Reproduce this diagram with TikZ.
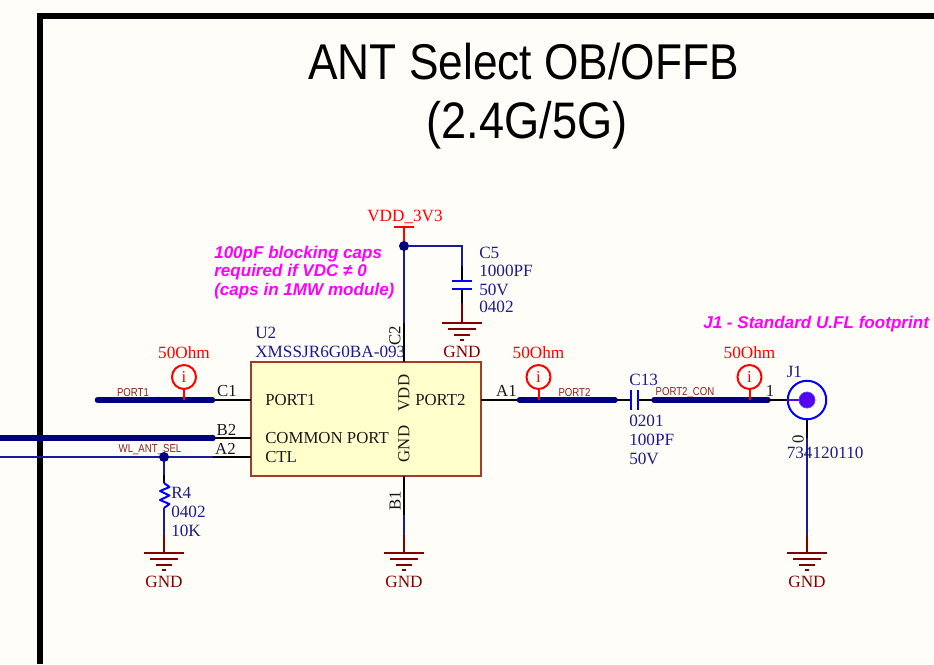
\documentclass[tikz,border=0pt]{standalone}
\usepackage{fontspec}
\setmainfont{Liberation Serif}
\setsansfont{Liberation Sans}
\newfontfamily\titlefont[FakeStretch=0.88]{Liberation Sans}
\newfontfamily\netfont[FakeStretch=0.84]{Liberation Sans}
\definecolor{paper}{HTML}{FFFDF8}
\definecolor{netblue}{HTML}{000080}
\definecolor{wireblue}{HTML}{1A1A9A}
\definecolor{partblue}{HTML}{0000FF}
\definecolor{bodyfill}{HTML}{FFFFCC}
\definecolor{bodyline}{HTML}{A33A2A}
\definecolor{gndred}{HTML}{800000}
\definecolor{labelred}{HTML}{8B2020}
\definecolor{note}{HTML}{FF00FF}
\definecolor{txtblue}{HTML}{1C1C8C}
\definecolor{dotfill}{HTML}{5500EE}
\tikzset{
  x=0.75pt,y=-0.75pt,
  bus/.style={netblue,line width=5.5pt*0.75,line cap=round},
  widebus/.style={netblue,line width=6.5pt*0.75},
  wire/.style={wireblue,line width=2pt*0.75},
  pin/.style={black,line width=2pt*0.75},
  gndwire/.style={gndred,line width=2pt*0.75},
  serif/.style={font=\fontsize{12.9}{15}\selectfont,inner sep=0pt},
  valtxt/.style={serif,text=txtblue,anchor=west},
  pintxt/.style={font=\fontsize{12.6}{15}\selectfont,inner sep=0pt,text=black!90},
  netlabel/.style={font=\netfont\fontsize{8.6}{10}\selectfont,text=labelred,inner sep=0pt},
  ohm/.style={serif,text=red},
  infocircle/.style={circle,draw=red,line width=2pt*0.75,minimum size=24*0.75pt,inner sep=0pt,font=\fontsize{12.5}{14}\selectfont,text=red},
  notetxt/.style={font=\sffamily\bfseries\itshape\fontsize{12.8}{14}\selectfont,text=note,inner sep=0pt,align=left},
  junction/.style={circle,fill=netblue,inner sep=0pt,minimum size=10*0.75pt},
  gndtxt/.style={serif,text=gndred},
  gndbar/.style={gndred,line width=2pt*0.75},
  plate/.style={partblue,line width=2pt*0.75},
  redline/.style={red,line width=2pt*0.75},
}
\newcommand{\gnd}[2]{%
  \draw[gndbar] (#1-20,#2) -- (#1+20,#2);
  \draw[gndbar] (#1-14,#2+6) -- (#1+14,#2+6);
  \draw[gndbar] (#1-8,#2+12) -- (#1+8,#2+12);
  \draw[gndbar] (#1-2,#2+17) -- (#1+2,#2+17);
}
\begin{document}
\begin{tikzpicture}
\useasboundingbox (0,0) rectangle (934,664);
\fill[paper] (0,0) rectangle (934,664);
% frame
\coordinate (fa) at (40,664);
\coordinate (fb) at (40,16);
\coordinate (fc) at (934,16);
\draw[black,line width=6pt*0.75,line join=miter] (fa) -- (fb) -- (fc);
% title
\node[font=\titlefont\fontsize{37.7}{44.200}\selectfont,align=center,inner sep=0pt,anchor=base] (title) at (523.500,79) {ANT Select OB/OFFB};
\node[font=\titlefont\fontsize{38.5}{44.200}\selectfont,align=center,inner sep=0pt,anchor=base] (title2) at (527,138) {(2.4G/5G)};
% U2
\node[draw=bodyline,fill=bodyfill,line width=1.6pt*0.75,minimum width=230*0.75pt,minimum height=114.500*0.75pt,inner sep=0pt] (u2) at (366,419) {};
\node[valtxt] (u2a) at (255,333) {U2};
\node[valtxt] (u2b) at (255,352) {XMSSJR6G0BA-093};
\node[pintxt,anchor=west] (p1) at (265,400) {PORT1};
\node[pintxt,anchor=west] (p2) at (265,438) {COMMON PORT};
\node[pintxt,anchor=west] (p3) at (265,457) {CTL};
\node[pintxt,anchor=west] (p4) at (415,400) {PORT2};
\node[pintxt,rotate=90] (p5) at (404,393) {VDD};
\node[pintxt,rotate=90] (p6) at (404,444) {GND};
% pin coordinates
\coordinate (c1in) at (251,400);
\coordinate (b2in) at (251,438);
\coordinate (a2in) at (251,457);
\coordinate (a1in) at (481,400);
\coordinate (c2in) at (404,362);
\coordinate (b1in) at (404,476);
% left nets
\coordinate (c1a) at (97.500,400);
\coordinate (c1b) at (212.500,400);
\coordinate (b2a) at (0,438);
\coordinate (b2b) at (212.500,438);
\coordinate (a2a) at (0,457);
\coordinate (a2b) at (213,457);
\draw[pin] (c1b) -- (c1in);
\draw[pin] (b2b) -- (b2in);
\draw[pin] (a2b) -- (a2in);
\draw[bus] (c1a) -- (c1b);
\draw[widebus] (b2a) -- (b2b);
\fill[netblue] (b2b) circle (3.25*0.75pt);
\draw[wire] (a2a) -- (a2b);
\node[pintxt] (lc1) at (227,391) {C1};
\node[pintxt] (lb2) at (226.500,430) {B2};
\node[pintxt] (la2) at (225.500,449) {A2};
\node[netlabel] (n1) at (133,393) {PORT1};
\node[netlabel] (n2) at (150,450) {WL\_ANT\_SEL};
\node[ohm] (o1) at (184,353) {50Ohm};
\node[infocircle] (i1) at (184,377) {i};
\coordinate (i1b) at (184,400);
\draw[redline] (i1) -- (i1b);
% R4
\node[junction] (j1) at (164,457) {};
\coordinate (r4a) at (164,483);
\coordinate (r4b) at (164,508);
\coordinate (r4c) at (164,535);
\coordinate (r4d) at (164,553);
\draw[wire] (j1) -- (164,475);
\draw[pin] (164,475) -- (r4a);
\draw[partblue,line width=2pt*0.75,line join=round] (r4a) -- (169.500,487) -- (160,491) -- (169.500,495.500) -- (160,500) -- (169.500,504) -- (r4b);
\draw[wire] (r4b) -- (r4c);
\draw[gndwire] (r4c) -- (r4d);
\gnd{164}{553}
\node[gndtxt] (g1) at (164,582) {GND};
\node[valtxt] (r4t) at (171,492.500) {R4};
\node[valtxt] (r4v) at (171,511.500) {0402};
\node[valtxt] (r4w) at (171,531) {10K};
% VDD and C2
\coordinate (vt) at (404,226.500);
\coordinate (vl) at (404,246);
\node[serif,text=red] (vdd) at (405,217) {VDD\_3V3};
\coordinate (vbl) at (394,226.500);
\coordinate (vbr) at (414,226.500);
\draw[redline] (vbl) -- (vbr);
\draw[redline] (vt) -- (vl);
\coordinate (c2m) at (404,323);
\draw[wire] (vl) -- (c2m);
\draw[pin] (c2m) -- (c2in);
\node[pintxt,rotate=90] (lc2) at (395,336) {C2};
\node[junction] (j2) at (404,246) {};
% C5
\coordinate (c5a) at (462,246);
\coordinate (c5b) at (462,266);
\coordinate (c5c) at (462,280.700);
\coordinate (c5d) at (462,288.700);
\coordinate (c5e) at (462,303);
\coordinate (c5f) at (462,323);
\draw[wire] (j2) -- (c5a) -- (c5b);
\draw[pin] (c5b) -- (c5c);
\draw[pin] (c5d) -- (c5e);
\draw[plate] (452,280.700) -- (472,280.700);
\draw[plate] (452,288.700) -- (472,288.700);
\draw[gndwire] (c5e) -- (c5f);
\gnd{462}{323}
\node[gndtxt] (g2) at (462,352) {GND};
\node[valtxt] (c5t) at (479,253) {C5};
\node[valtxt] (c5u) at (479,271) {1000PF};
\node[valtxt] (c5v) at (479,290) {50V};
\node[valtxt] (c5w) at (479,307) {0402};
% note
\node[notetxt,anchor=base west] (note1) at (214,258) {100pF blocking caps};
\node[notetxt,anchor=base west] (note1b) at (214,276.500) {required if VDC ≠ 0};
\node[notetxt,anchor=base west] (note1c) at (214,295.500) {(caps in 1MW module)};
\node[notetxt,anchor=base west] (note2) at (703,328) {J1 - Standard U.FL footprint};
% B1
\coordinate (b1m) at (404,515);
\coordinate (b1n) at (404,535);
\coordinate (b1o) at (404,553);
\draw[pin] (b1in) -- (b1m);
\draw[wire] (b1m) -- (b1n);
\draw[gndwire] (b1n) -- (b1o);
\gnd{404}{553}
\node[gndtxt] (g3) at (404,582) {GND};
\node[pintxt,rotate=90] (lb1) at (395,501) {B1};
% right nets
\coordinate (a1a) at (519.500,400);
\coordinate (a1b) at (615,400);
\coordinate (c13a) at (631,400);
\coordinate (c13b) at (638,400);
\coordinate (c13c) at (654,400);
\coordinate (c13d) at (768,400);
\draw[pin] (a1in) -- (a1a);
\draw[pin] (a1b) -- (c13a);
\draw[pin] (c13b) -- (c13c);
\draw[bus] (a1a) -- (a1b);
\draw[bus] (c13c) -- (c13d);
\draw[plate] (631,389.500) -- (631,410);
\draw[plate] (638,389.500) -- (638,410);
\node[pintxt] (la1) at (506.500,391) {A1};
\node[ohm] (o2) at (538.500,353) {50Ohm};
\node[infocircle] (i2) at (538.500,377) {i};
\coordinate (i2b) at (538.500,400);
\draw[redline] (i2) -- (i2b);
\node[netlabel] (n3) at (574.500,393) {PORT2};
\node[valtxt] (c13t) at (629,380) {C13};
\node[valtxt] (c13u) at (629,421) {0201};
\node[valtxt] (c13v) at (629,440) {100PF};
\node[valtxt] (c13w) at (629,459) {50V};
\node[netlabel] (n4) at (685,393) {PORT2\_CON};
\node[ohm] (o3) at (749.500,353) {50Ohm};
\node[infocircle] (i3) at (749.500,377) {i};
\coordinate (i3b) at (749.500,400);
\draw[redline] (i3) -- (i3b);
% J1
\coordinate (jp) at (788,400);
\draw[pin] (c13d) -- (jp);
\node[circle,draw=partblue,line width=2pt*0.75,minimum size=38.500*0.75pt,inner sep=0pt,fill=paper] (j1o) at (807,400) {};
\node[circle,fill=dotfill,draw=partblue!70,line width=.6pt,minimum size=16*0.75pt,inner sep=0pt] (j1i) at (807,400) {};
\draw[dotfill,line width=2pt*0.75] (j1o.west) -- (j1i.west);
\coordinate (jb) at (807,438);
\coordinate (jc) at (807,535);
\coordinate (jd) at (807,553);
\draw[pin] (j1o.south) -- (jb);
\draw[wire] (jb) -- (jc);
\draw[gndwire] (jc) -- (jd);
\gnd{807}{553}
\node[gndtxt] (g4) at (807,582) {GND};
\node[pintxt] (l1) at (770,391) {1};
\node[pintxt,rotate=90] (l0) at (798,439) {0};
\node[valtxt,anchor=west] (jt) at (786.500,372) {J1};
\node[valtxt] (jv) at (786.500,453) {734120110};
\end{tikzpicture}
\end{document}
